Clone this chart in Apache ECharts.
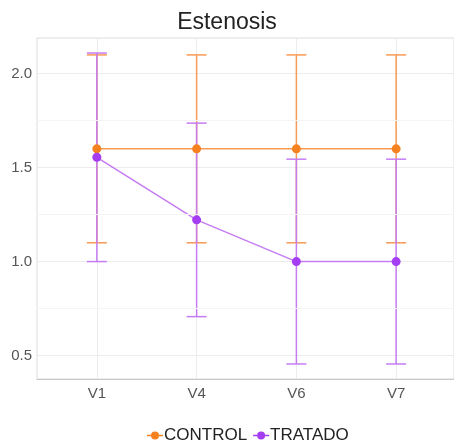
<!DOCTYPE html>
<html>
<head>
<meta charset="utf-8">
<script src="https://cdn.jsdelivr.net/npm/echarts@6/dist/echarts.min.js"></script>
<style>
  html, body { margin: 0; padding: 0; background: #fff; }
  #chart { width: 454px; height: 445px; }
</style>
</head>
<body>
<div id="chart"></div>
<script>
const visits = ['V1', 'V4', 'V6', 'V7'];
const controlMean = [1.6, 1.6, 1.6, 1.6];
const controlErr = [0.5, 0.5, 0.5, 0.5];
const tratadoMean = [1.555, 1.222, 1.0, 1.0];
const tratadoErr = [0.555, 0.515, 0.545, 0.545];
const yTicks = [0.5, 1.0, 1.5, 2.0];
const yMinorTicks = [0.75, 1.25, 1.75];

const ORANGE = '#f58120';
const ORANGE_LIGHT = '#f79a55';
const PURPLE = '#a53ef2';
const PURPLE_LIGHT = '#c57cf3';

// legend glyph: short line with a dot in the middle
const LEGEND_ICON = 'path://M0,3.3h16v1.4h-16z M12,4a4,4 0 1,1 -8,0a4,4 0 1,1 8,0z';

const chart = echarts.init(document.getElementById('chart'), null, { renderer: 'canvas' });

function pts(means) {
  return means.map((m, i) => [i, m]);
}

function errData(means, errs) {
  return means.map((m, i) => [i, m - errs[i], m + errs[i]]);
}

function errorBars(name, means, errs, color) {
  return {
    type: 'custom',
    name: name,
    z: 1,
    silent: true,
    data: errData(means, errs),
    renderItem: function (params, api) {
      const lo = api.coord([api.value(0), api.value(1)]);
      const hi = api.coord([api.value(0), api.value(2)]);
      const half = 10;
      const style = { stroke: color, lineWidth: 1.5 };
      return {
        type: 'group',
        children: [
          { type: 'line', shape: { x1: lo[0], y1: lo[1], x2: hi[0], y2: hi[1] }, style: style },
          { type: 'line', shape: { x1: lo[0] - half, y1: lo[1], x2: lo[0] + half, y2: lo[1] }, style: style },
          { type: 'line', shape: { x1: hi[0] - half, y1: hi[1], x2: hi[0] + half, y2: hi[1] }, style: style }
        ]
      };
    }
  };
}

chart.setOption({
  animation: false,
  backgroundColor: '#fff',
  title: {
    text: 'Estenosis',
    left: 'center',
    top: 6,
    textStyle: { fontFamily: 'Liberation Sans', fontSize: 23, fontWeight: 'normal', color: '#222' }
  },
  legend: {
    top: 422,
    left: 142,
    itemGap: 6,
    itemWidth: 16,
    itemHeight: 8,
    data: [
      { name: 'CONTROL', icon: LEGEND_ICON, itemStyle: { color: ORANGE } },
      { name: 'TRATADO', icon: LEGEND_ICON, itemStyle: { color: PURPLE } }
    ],
    textStyle: { fontFamily: 'Liberation Sans', fontSize: 17, color: '#222', padding: [0, 0, 0, -4] }
  },
  grid: {
    left: 37, right: 0, top: 38, bottom: 66,
    show: true, borderColor: '#dcdcdc', borderWidth: 1
  },
  xAxis: {
    type: 'value',
    min: -0.6,
    max: 3.58,
    axisLine: { show: true, lineStyle: { color: '#c8c8c8' } },
    axisTick: { show: false, customValues: [0, 1, 2, 3] },
    axisLabel: {
      customValues: [0, 1, 2, 3],
      formatter: v => visits[Math.round(v)],
      color: '#555', fontFamily: 'Liberation Sans', fontSize: 15, margin: 7
    },
    splitLine: { show: true, customValues: [0, 1, 2, 3], lineStyle: { color: '#ececec' } }
  },
  yAxis: {
    type: 'value',
    min: 0.375,
    max: 2.19,
    axisLine: { show: false },
    axisTick: { show: false, customValues: yTicks },
    axisLabel: {
      customValues: yTicks,
      formatter: v => v.toFixed(1),
      color: '#555', fontFamily: 'Liberation Sans', fontSize: 15, margin: 5
    },
    splitLine: { show: true, customValues: yTicks, lineStyle: { color: '#ececec' } }
  },
  series: [
    errorBars('CONTROL', controlMean, controlErr, ORANGE_LIGHT),
    errorBars('TRATADO', tratadoMean, tratadoErr, PURPLE_LIGHT),
    {
      type: 'line',
      name: 'CONTROL',
      z: 3,
      data: pts(controlMean),
      symbol: 'circle',
      symbolSize: 9,
      itemStyle: { color: ORANGE },
      lineStyle: { color: ORANGE_LIGHT, width: 1.5 }
    },
    {
      type: 'line',
      name: 'TRATADO',
      z: 4,
      data: pts(tratadoMean),
      symbol: 'circle',
      symbolSize: 9,
      itemStyle: { color: PURPLE },
      lineStyle: { color: PURPLE_LIGHT, width: 1.5 }
    },
    {
      // faint minor grid lines
      type: 'line',
      silent: true,
      data: [],
      markLine: {
        silent: true,
        symbol: 'none',
        label: { show: false },
        lineStyle: { color: '#f4f4f4', type: 'solid', width: 1 },
        data: yMinorTicks.map(v => ({ yAxis: v }))
      }
    }
  ]
});
</script>
</body>
</html>
